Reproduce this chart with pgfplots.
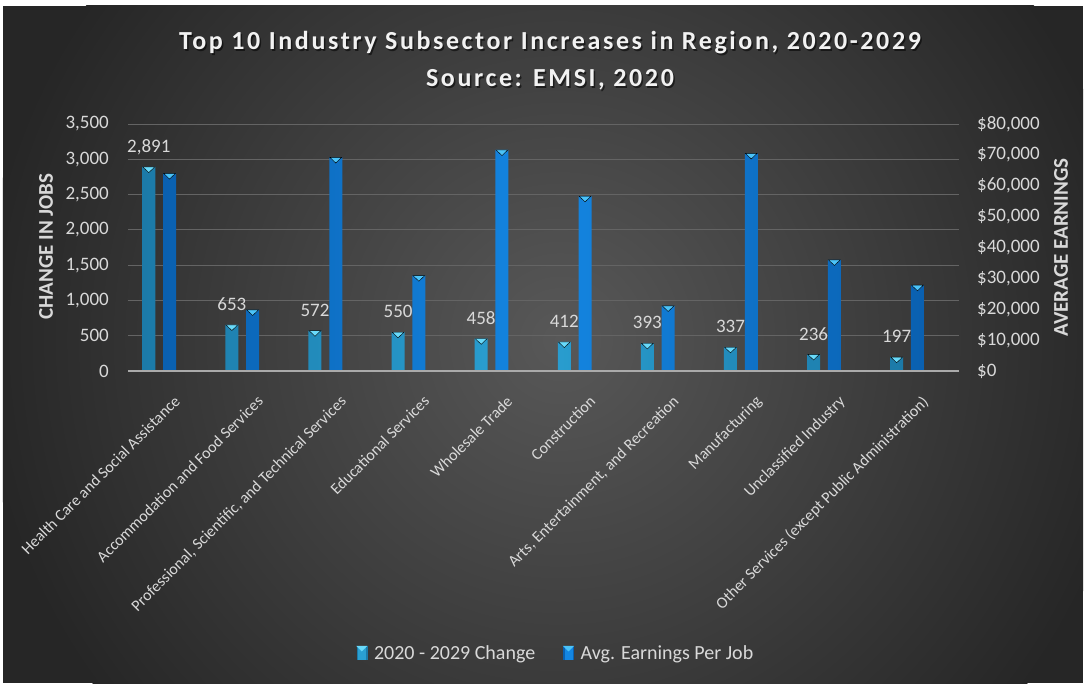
\documentclass[border=0pt]{standalone}
\usepackage{fontspec}
\setmainfont{Carlito}
\newfontfamily\titlefont[LetterSpace=10]{Carlito}
\usepackage{pgfplots}
\pgfplotsset{compat=1.18}

\definecolor{bgin}{RGB}{88,88,88}
\definecolor{bgout}{RGB}{38,38,38}
\definecolor{txt}{RGB}{217,217,217}
\definecolor{titlec}{RGB}{242,242,242}
\definecolor{gridc}{RGB}{100,100,100}
\definecolor{basec}{RGB}{170,170,170}
\definecolor{chg}{RGB}{42,160,210}
\definecolor{chgd}{RGB}{28,122,168}
\definecolor{chgcap}{RGB}{105,218,250}
\definecolor{ern}{RGB}{20,134,226}
\definecolor{ernd}{RGB}{10,96,176}
\definecolor{erncap}{RGB}{75,195,248}

\pgfdeclareradialshading{bgshade}{\pgfpointorigin}{color(0bp)=(bgin); color(25bp)=(bgout); color(50bp)=(bgout)}

\pgfplotstableread{
x   chg
-0.25 2891
0.75  653
1.75  572
2.75  550
3.75  458
4.75  412
5.75  393
6.75  337
7.75  236
8.75  197
}\changetable

\pgfplotstableread{
x   ern
0  64000
1  19800
2  69200
3  30900
4  71600
5  56600
6  21100
7  70500
8  36000
9  27800
}\earntable

\begin{document}
\begin{tikzpicture}[x=1pt,y=1pt]
% page area in px: x' = px-128, y' = 371-py
\fill[white] (-128,371) rectangle (958,-314);
\useasboundingbox (-128,371) rectangle (958,-314);
\fill[bgout] (-125,365) rectangle (955,-312);
\begin{scope}
\clip (-125,365) rectangle (955,-312);
\shade[shading=bgshade] (432,31) circle (580);
\end{scope}

\begin{axis}[
  at={(0,0)}, anchor=south west,
  scale only axis, width=831pt, height=247pt,
  xmin=-0.5, xmax=9.5, ymin=0, ymax=3500,
  ytick={0,500,...,3500},
  xtick={0,...,9},
  xticklabels={Health Care and Social Assistance,Accommodation and Food Services,{Professional, Scientific, and Technical Services},Educational Services,Wholesale Trade,Construction,{Arts, Entertainment, and Recreation},Manufacturing,Unclassified Industry,Other Services (except Public Administration)},
  xticklabel style={rotate=45, anchor=north east, inner sep=0pt, yshift=-19pt, xshift=-14pt, font=\fontsize{16}{19}\selectfont, text=txt},
  yticklabel style={anchor=east, inner sep=0pt, xshift=-19pt, font=\fontsize{19}{22}\selectfont, text=txt},
  /pgf/number format/.cd, 1000 sep={,}, fixed, assume math mode=true,
  /pgfplots/.cd,
  scaled y ticks=false,
  axis x line*=bottom, axis y line*=left,
  x axis line style={draw=none},
  y axis line style={draw=none},
  major tick length=0pt,
  ymajorgrids, grid style={draw=gridc, line width=1pt},
  clip=false,
  legend style={at={(0.515,-1.142)}, anchor=center, draw=none, fill=none, text=txt,
    font=\fontsize{20}{23}\selectfont, legend columns=2,
    /tikz/every even column/.append style={column sep=26pt},
    /tikz/every odd column/.append style={column sep=5pt}},
]
\addplot[ybar, bar width=13pt, bar shift=0pt, draw=none,
  left color=chgd, right color=chgd, middle color=chg,
  mark=triangle*, mark size=6.8pt,
  mark options={shade=false, yshift=-1.9pt, rotate=180, yscale=0.55, fill=chgcap, draw=none, solid},
  nodes near coords,
  every node near coord/.append style={shade=false, anchor=south, inner sep=0pt, text depth=0pt, yshift=16pt, font=\fontsize{19}{22}\selectfont, text=txt},
  forget plot]
  table[x=x, y=chg] {\changetable};
\addlegendimage{legend image code/.code={
  \fill[chgd] (0pt,-6pt) rectangle (10pt,7pt);
  \fill[chg] (1.5pt,-6pt) rectangle (8.5pt,7pt);
  \fill[chgcap] (0pt,7pt) -- (10pt,7pt) -- (5pt,2pt) -- cycle;}}
\addlegendentry{2020 - 2029 Change}
\addlegendimage{legend image code/.code={
  \fill[ernd] (0pt,-6pt) rectangle (10pt,7pt);
  \fill[ern] (1.5pt,-6pt) rectangle (8.5pt,7pt);
  \fill[erncap] (0pt,7pt) -- (10pt,7pt) -- (5pt,2pt) -- cycle;}}
\addlegendentry{Avg. Earnings Per Job}
\end{axis}

\begin{axis}[
  at={(0,0)}, anchor=south west,
  scale only axis, width=831pt, height=247pt,
  xmin=-0.5, xmax=9.5, ymin=0, ymax=80000,
  ytick={0,10000,...,80000},
  xtick=\empty,
  axis x line*=bottom, axis y line*=right,
  x axis line style={draw=basec, line width=2.5pt, -},
  y axis line style={draw=none},
  major tick length=0pt,
  /pgf/number format/.cd, 1000 sep={,}, fixed, assume math mode=true,
  /pgfplots/.cd,
  scaled y ticks=false,
  yticklabel={\$\pgfmathprintnumber{\tick}},
  yticklabel style={anchor=west, inner sep=0pt, xshift=18pt, font=\fontsize{19}{22}\selectfont, text=txt},
  axis on top,
  clip=false,
]
\addplot[ybar, bar width=13pt, bar shift=0pt, draw=none,
  left color=ernd, right color=ernd, middle color=ern,
  mark=triangle*, mark size=6.8pt,
  mark options={shade=false, yshift=-1.9pt, rotate=180, yscale=0.55, fill=erncap, draw=none, solid}]
  table[x=x, y=ern] {\earntable};
\end{axis}

% titles
\node[anchor=base, font=\titlefont\bfseries\fontsize{26}{31}\selectfont, text=black, opacity=0.55] at (423.5,319.5) {Top 10 Industry Subsector Increases in Region, 2020-2029};
\node[anchor=base, font=\titlefont\bfseries\fontsize{26}{31}\selectfont, text=titlec] at (422,321) {Top 10 Industry Subsector Increases in Region, 2020-2029};
\node[anchor=base, font=\titlefont\bfseries\fontsize{26}{31}\selectfont, text=black, opacity=0.55] at (423.5,282.8) {Source: EMSI, 2020};
\node[anchor=base, font=\titlefont\bfseries\fontsize{26}{31}\selectfont, text=titlec] at (422,284.3) {Source: EMSI, 2020};
\node[rotate=90, font=\bfseries\fontsize{21}{25}\selectfont, text=txt] at (-82,124.3) {CHANGE IN JOBS};
\node[rotate=90, font=\bfseries\fontsize{21}{25}\selectfont, text=txt] at (933,123.5) {AVERAGE EARNINGS};
\end{tikzpicture}
\end{document}
